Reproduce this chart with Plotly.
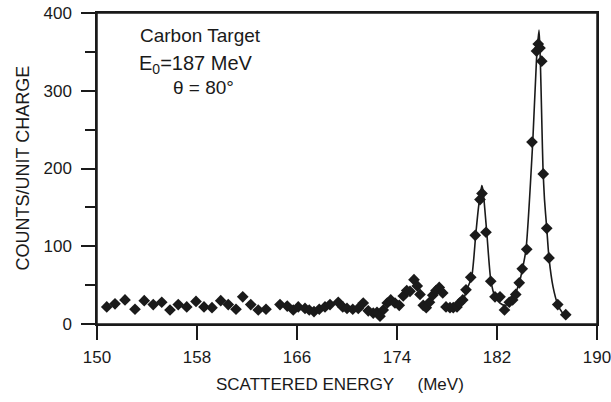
import plotly.graph_objects as go

# Measured data points (scattered energy in MeV, counts per unit charge)
energy = [150.78, 151.44, 152.24, 153.04, 153.78, 154.5, 155.18, 155.84, 156.5, 157.18,
          157.92, 158.56, 159.2, 159.9, 160.5, 161.12, 161.66, 162.3, 162.9, 163.52,
          164.64, 165.22, 165.7, 166.1, 166.64, 166.98, 167.36, 167.78, 168.24, 168.64,
          169.3, 169.66, 170.0, 170.46, 170.9, 171.3, 171.7, 172.1, 172.4, 172.64,
          172.9, 173.22, 173.5, 173.84, 174.18, 174.5, 174.78, 175.04, 175.36, 175.62,
          175.84, 176.1, 176.34, 176.6, 176.86, 177.12, 177.38, 177.66, 177.92, 178.24,
          178.5, 178.8, 179.0, 179.26, 179.52, 179.9, 180.26, 180.64, 180.8, 181.12,
          181.5, 181.84, 182.24, 182.6, 182.98, 183.25, 183.5, 183.78, 184.02, 184.38,
          184.8, 185.16, 185.3, 185.44, 185.58, 185.7, 185.98, 186.16, 186.86, 187.5]
counts = [22, 26, 31, 19, 30, 25, 28, 18, 25, 22,
          29, 22, 21, 30, 25, 19, 35, 25, 18, 19,
          25, 23, 18, 22, 20, 18, 16, 19, 22, 25,
          28, 22, 20, 19, 20, 27, 17, 14, 15, 10,
          18, 27, 31, 27, 24, 36, 43, 42, 57, 49,
          38, 24, 21, 28, 37, 43, 47, 40, 22, 21,
          21, 22, 27, 31, 44, 60, 114, 160, 168, 118,
          55, 35, 35, 18, 28, 31, 38, 53, 71, 96,
          234, 351, 360, 355, 338, 193, 123, 85, 25, 12]

# Fitted curve
fit_energy = [178.5, 179.18, 179.58, 179.98, 180.3, 180.52, 180.78, 180.88, 181.18, 181.5,
              181.84, 182.24, 182.64, 183.04, 183.36, 183.78, 184.04, 184.32, 184.86, 185.16,
              185.36, 185.44, 185.52, 185.6, 185.68, 185.8, 185.98, 186.16, 186.48, 186.86,
              187.2, 187.52]
fit_counts = [22, 27, 44, 61, 115, 150, 178, 172, 118, 57,
              35, 27, 24, 27, 35, 53, 71, 96, 234, 340,
              378, 352, 305, 250, 200, 160, 123, 85, 48, 25,
              15, 10]

x_ticks = [150, 158, 166, 174, 182, 190]
y_ticks = [0, 100, 200, 300, 400]

ink = "#1a1a1a"
font_main = "Liberation Sans, Arial, sans-serif"

fig = go.Figure()
fig.add_trace(go.Scatter(x=fit_energy, y=fit_counts, mode="lines",
                         line=dict(color=ink, width=1.6, shape="spline", smoothing=0.6),
                         hoverinfo="skip", showlegend=False))
fig.add_trace(go.Scatter(x=energy, y=counts, mode="markers",
                         marker=dict(symbol="diamond", size=9, color=ink),
                         showlegend=False))

fig.update_layout(
    width=611, height=402,
    margin=dict(l=97, r=14, t=13, b=78, autoexpand=False),
    paper_bgcolor="white", plot_bgcolor="white",
    font=dict(family=font_main, color=ink, size=17),
    xaxis=dict(range=[150, 190], tickvals=x_ticks, ticktext=[str(v) for v in x_ticks],
               ticks="outside", ticklen=14, tickwidth=1.5, tickcolor=ink,
               showline=True, linecolor=ink, linewidth=1.5, mirror=True,
               showgrid=False, zeroline=False, ticklabelstandoff=3, automargin=False,
               ticklabeloverflow="allow", tickfont=dict(size=17)),
    yaxis=dict(range=[0, 400], tickvals=y_ticks, ticktext=[str(v) for v in y_ticks],
               ticks="outside", ticklen=14, tickwidth=1.5, tickcolor=ink,
               showline=True, linecolor=ink, linewidth=1.5, mirror=True,
               showgrid=False, zeroline=False, ticklabelstandoff=6, automargin=False,
               ticklabeloverflow="allow", tickfont=dict(size=17),
               minor=dict(dtick=50, tick0=0, ticks="outside", ticklen=10,
                          tickwidth=1.5, tickcolor=ink, showgrid=False)),
    shapes=[dict(type="rect", xref="paper", yref="paper", x0=0, x1=1, y0=0, y1=1,
                 line=dict(color=ink, width=1.5), fillcolor="rgba(0,0,0,0)", layer="above")],
    annotations=[
        dict(text="Carbon Target", x=0.206, y=0.929, xref="paper", yref="paper",
             xanchor="center", yanchor="middle", showarrow=False, font=dict(size=19)),
        dict(text="E<sub>0</sub>=187 MeV", x=0.198, y=0.833, xref="paper", yref="paper",
             xanchor="center", yanchor="middle", showarrow=False, font=dict(size=20)),
        dict(text="θ = 80°", x=0.212, y=0.759, xref="paper", yref="paper",
             xanchor="center", yanchor="middle", showarrow=False, font=dict(size=19)),
        dict(text="SCATTERED ENERGY     (MeV)", x=0.486, y=-0.196, xref="paper", yref="paper",
             xanchor="center", yanchor="middle", showarrow=False, font=dict(size=17)),
        dict(text="COUNTS/UNIT CHARGE", x=-0.15, y=0.5, xref="paper", yref="paper",
             xanchor="center", yanchor="middle",
             showarrow=False, textangle=-90, font=dict(size=18)),
    ],
)

fig.write_html("out.html", config={"displayModeBar": False},
               post_script="document.body.style.margin='0';document.body.style.padding='0';")
